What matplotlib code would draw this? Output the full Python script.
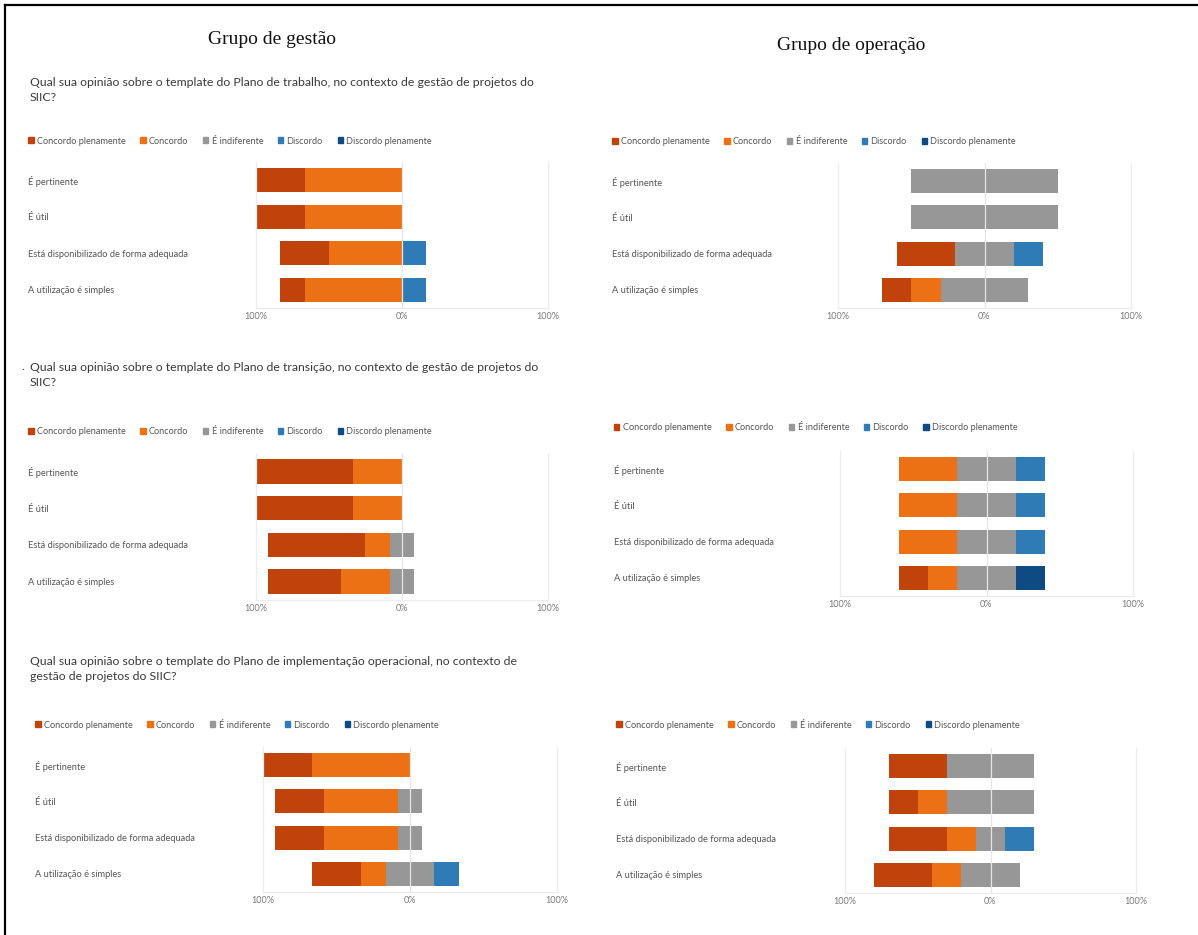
import numpy as np
import matplotlib
matplotlib.use("Agg")
import matplotlib.pyplot as plt
from matplotlib.patches import Patch
from matplotlib.lines import Line2D

# categorias e séries
categorias = ["É pertinente", "É útil", "Está disponibilizado de forma adequada", "A utilização é simples"]
series = ["Concordo plenamente", "Concordo", "É indiferente", "Discordo", "Discordo plenamente"]
cores = ["#C0430B", "#EC7114", "#979797", "#2E7BB6", "#0D4B82"]

# percentuais por categoria: [CP, C, I, D, DP]
gestao_trabalho = [[33.3, 66.7, 0, 0, 0],
                   [33.3, 66.7, 0, 0, 0],
                   [33.3, 50.0, 0, 16.7, 0],
                   [16.7, 66.7, 0, 16.7, 0]]
operacao_trabalho = [[0, 0, 100, 0, 0],
                     [0, 0, 100, 0, 0],
                     [40, 0, 40, 20, 0],
                     [20, 20, 60, 0, 0]]
gestao_transicao = [[66.7, 33.3, 0, 0, 0],
                    [66.7, 33.3, 0, 0, 0],
                    [66.7, 16.7, 16.7, 0, 0],
                    [50.0, 33.3, 16.7, 0, 0]]
operacao_transicao = [[0, 40, 40, 20, 0],
                      [0, 40, 40, 20, 0],
                      [0, 40, 40, 20, 0],
                      [20, 20, 40, 0, 20]]
gestao_implementacao = [[33.3, 66.7, 0, 0, 0],
                        [33.3, 50.0, 16.7, 0, 0],
                        [33.3, 50.0, 16.7, 0, 0],
                        [33.3, 16.7, 33.3, 16.7, 0]]
operacao_implementacao = [[40, 0, 60, 0, 0],
                          [20, 20, 60, 0, 0],
                          [40, 20, 20, 20, 0],
                          [40, 20, 40, 0, 0]]

perguntas = ["Qual sua opinião sobre o template do Plano de trabalho, no contexto de gestão de projetos do\nSIIC?",
             "Qual sua opinião sobre o template do Plano de transição, no contexto de gestão de projetos do\nSIIC?",
             "Qual sua opinião sobre o template do Plano de implementação operacional, no contexto de\ngestão de projetos do SIIC?"]

W, H = 1198, 935
fig = plt.figure(figsize=(W / 100, H / 100), dpi=100)
fonte = ["Lato", "DejaVu Sans"]


def grafico(dados, x0, x1, ytop, ybot, label_x, leg_y):
    ax = fig.add_axes([x0 / W, 1 - ybot / H, (x1 - x0) / W, (ybot - ytop) / H])
    d = np.array(dados, dtype=float)
    esquerda = -(d[:, 0] + d[:, 1] + d[:, 2] / 2)
    y = np.arange(len(categorias))
    for j in range(len(series)):
        ax.barh(y, d[:, j], left=esquerda, height=0.66, color=cores[j], zorder=2)
        esquerda = esquerda + d[:, j]
    ax.set_xlim(-100, 100)
    ax.set_ylim(3.5, -0.5)
    ax.axvline(0, color="#e6e6e6", lw=0.9, zorder=3)
    ax.spines["top"].set_visible(False)
    for s in ["left", "right", "bottom"]:
        ax.spines[s].set_color("#ececec")
        ax.spines[s].set_linewidth(0.9)
    ax.set_xticks([-100, 0, 100])
    ax.set_xticklabels(["100%", "0%", "100%"], fontsize=6.6, color="#7a7a7a", family=fonte)
    ax.set_yticks(y)
    ax.set_yticklabels(categorias, fontsize=6.7, color="#555555", ha="left", family=fonte)
    ax.tick_params(axis="y", length=0, pad=(x0 - label_x) * 0.72)
    ax.tick_params(axis="x", length=0, pad=3)
    handles = [Patch(color=c) for c in cores]
    ax.legend(handles, series, loc="center left", bbox_to_anchor=(label_x / W, 1 - leg_y / H),
              bbox_transform=fig.transFigure, ncol=5, frameon=False,
              prop={"family": fonte, "size": 6.6}, labelcolor="#555555",
              handlelength=0.6, handleheight=0.6, handletextpad=0.35,
              columnspacing=1.6, borderaxespad=0, borderpad=0)
    return ax


grafico(gestao_trabalho, 256, 548, 162, 308, 28, 141)
grafico(operacao_trabalho, 838, 1131, 163, 308, 612, 142)
grafico(gestao_transicao, 256, 548, 453, 600, 28, 432)
grafico(operacao_transicao, 840, 1133, 451, 596, 614, 428)
grafico(gestao_implementacao, 263, 557, 747, 892, 35, 725)
grafico(operacao_implementacao, 845, 1136, 748, 893, 616, 725)

# títulos dos grupos
fig.text(272 / W, 1 - 40 / H, "Grupo de gestão", fontsize=14, family="Liberation Serif",
         ha="center", va="center", color="#111111")
fig.text(851 / W, 1 - 45 / H, "Grupo de operação", fontsize=14, family="Liberation Serif",
         ha="center", va="center", color="#111111")

# perguntas
fig.text(30 / W, 1 - 90 / H, perguntas[0], fontsize=8.8, family=fonte, color="#3a3a3a",
         ha="left", va="center", linespacing=1.45)
fig.text(21 / W, 1 - 367 / H, ".", fontsize=8.8, family=fonte, color="#3a3a3a", ha="left", va="center")
fig.text(30 / W, 1 - 375 / H, perguntas[1], fontsize=8.8, family=fonte, color="#3a3a3a",
         ha="left", va="center", linespacing=1.45)
fig.text(30 / W, 1 - 669 / H, perguntas[2], fontsize=8.8, family=fonte, color="#3a3a3a",
         ha="left", va="center", linespacing=1.45)

# moldura
fig.add_artist(Line2D([5 / W, 5 / W], [0, 1 - 5 / H], color="black", lw=1.6, transform=fig.transFigure))
fig.add_artist(Line2D([5 / W, 1], [1 - 5 / H, 1 - 5 / H], color="black", lw=1.6, transform=fig.transFigure))

fig.savefig("out.png", dpi=100)
